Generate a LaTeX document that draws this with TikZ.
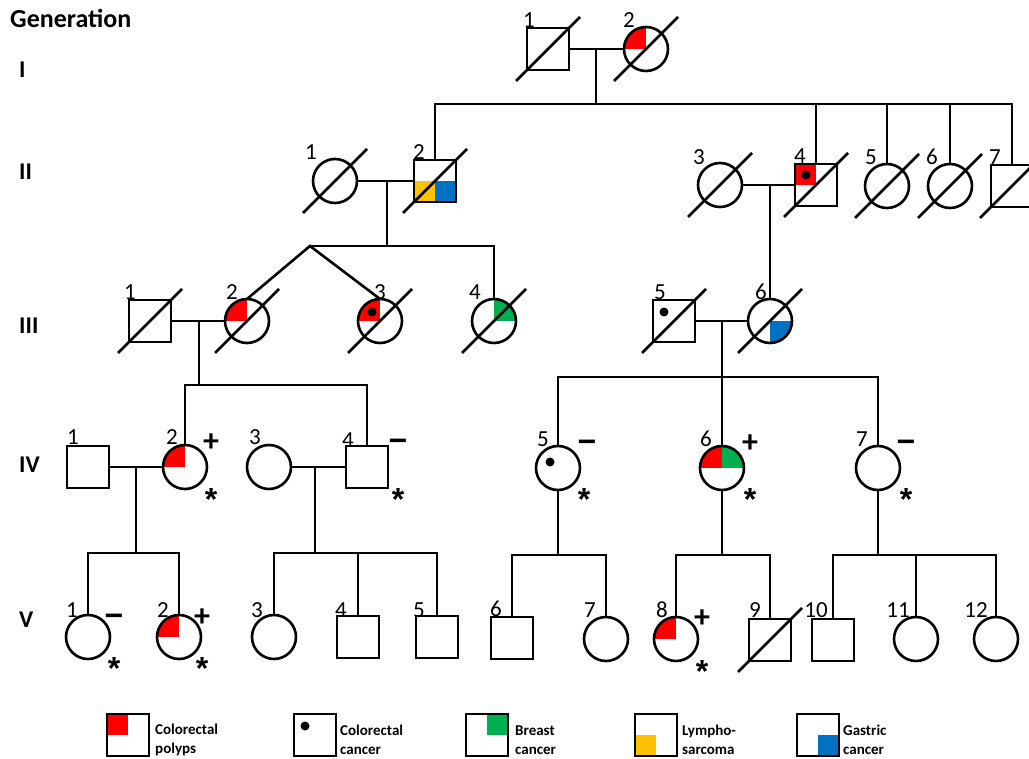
\documentclass[tikz,border=0pt]{standalone}
\usepackage{fontspec}
\setmainfont{Carlito}
\newfontfamily\astfont{Liberation Sans}
\usetikzlibrary{backgrounds}
\definecolor{cpol}{RGB}{255,0,0}
\definecolor{cbr}{RGB}{0,176,80}
\definecolor{cly}{RGB}{255,192,0}
\definecolor{cga}{RGB}{0,112,192}
\tikzset{
  male/.style={draw, rectangle, minimum size=42pt, inner sep=0pt, outer sep=0pt, line width=2.6pt},
  female/.style={draw, circle, minimum size=44pt, inner sep=0pt, outer sep=0pt, line width=2.6pt},
  conn/.style={line width=2.6pt},
  num/.style={font=\fontsize{23}{23}\selectfont, inner sep=0pt},
  sign/.style={font=\bfseries\fontsize{32}{32}\selectfont, inner sep=0pt, anchor=base},
  ast/.style={font=\astfont\bfseries\fontsize{32}{32}\selectfont, inner sep=0pt, anchor=base},
  gen/.style={font=\bfseries\fontsize{24}{24}\selectfont, inner sep=0pt, anchor=west},
  legbox/.style={draw, rectangle, minimum size=42pt, inner sep=0pt, outer sep=0pt, line width=2.2pt},
  legtxt/.style={font=\bfseries\fontsize{15}{19}\selectfont, align=left, anchor=west, inner sep=0pt},
}
\newcommand\deceased[1]{\draw[conn] ([shift={(-32pt,-32pt)}]#1.center) -- ([shift={(32pt,32pt)}]#1.center);}
\newcommand\cfill[3]{\begin{pgfonlayer}{background}\begin{scope}\clip (#1.center) circle[radius=22pt]; \fill[#2] (#1.center) rectangle ++#3;\end{scope}\end{pgfonlayer}}
\newcommand\sfill[3]{\begin{pgfonlayer}{background}\begin{scope}\fill[#2] (#1.center) rectangle ++#3;\end{scope}\end{pgfonlayer}}
\newcommand\dotmark[2]{\fill ([shift={#2}]#1.center) circle[radius=4.5pt];}
\newcommand\pnum[4]{\node[num] (#1-n) at ([shift={(#3pt,#4pt)}]#1.center) {#2};}
\begin{document}
\begin{tikzpicture}[x=1pt,y=1pt]
\useasboundingbox (0,0) rectangle (1029,-759);
% generation labels
\node[font=\bfseries\fontsize{26}{26}\selectfont, inner sep=0pt, anchor=west] (genlab) at (10,-18) {Generation};
\node[gen] (gI) at (19,-70) {I};
\node[gen] (gII) at (19,-172) {II};
\node[gen] (gIII) at (19,-326) {III};
\node[gen] (gIV) at (19,-465) {IV};
\node[gen] (gV) at (19,-620) {V};
% Gen I
\node[male] (I1) at (548,-49) {};
\node[female] (I2) at (646,-49) {};
% Gen II
\node[female] (II1) at (335,-181) {};
\node[male] (II2) at (435,-181) {};
\node[female] (II3) at (720,-185) {};
\node[male] (II4) at (816,-185) {};
\node[female] (II5) at (887,-186) {};
\node[female] (II6) at (950,-186) {};
\node[male] (II7) at (1012,-186) {};
% Gen III
\node[male] (III1) at (150,-321) {};
\node[female] (III2) at (247,-321) {};
\node[female] (III3) at (380,-321) {};
\node[female] (III4) at (494,-321) {};
\node[male] (III5) at (674,-321) {};
\node[female] (III6) at (770,-321) {};
% Gen IV
\node[male] (IV1) at (88,-467) {};
\node[female] (IV2) at (185,-467) {};
\node[female] (IV3) at (269,-467) {};
\node[male] (IV4) at (367,-467) {};
\node[female] (IV5) at (558,-468) {};
\node[female] (IV6) at (722,-468) {};
\node[female] (IV7) at (878,-468) {};
% Gen V
\node[female] (V1) at (88,-637) {};
\node[female] (V2) at (179,-637) {};
\node[female] (V3) at (274,-637) {};
\node[male] (V4) at (358,-637) {};
\node[male] (V5) at (437,-637) {};
\node[male] (V6) at (512,-638) {};
\node[female] (V7) at (606,-639) {};
\node[female] (V8) at (676,-639) {};
\node[male] (V9) at (770,-640) {};
\node[male] (V10) at (833,-640) {};
\node[female] (V11) at (916,-639) {};
\node[female] (V12) at (996,-639) {};
% fills
\cfill{I2}{cpol}{(-23pt,23pt)}
\sfill{II2}{cly}{(-21pt,-21pt)}
\sfill{II2}{cga}{(21pt,-21pt)}
\sfill{II4}{cpol}{(-21pt,21pt)}
\cfill{III2}{cpol}{(-23pt,23pt)}
\cfill{III3}{cpol}{(-23pt,23pt)}
\cfill{III4}{cbr}{(23pt,23pt)}
\cfill{III6}{cga}{(23pt,-23pt)}
\cfill{IV2}{cpol}{(-23pt,23pt)}
\cfill{IV6}{cpol}{(-23pt,23pt)}
\cfill{IV6}{cbr}{(23pt,23pt)}
\cfill{V2}{cpol}{(-23pt,23pt)}
\cfill{V8}{cpol}{(-23pt,23pt)}
% dots
\dotmark{II4}{(-10pt,10pt)}
\dotmark{III3}{(-8pt,9pt)}
\dotmark{III5}{(-10pt,9pt)}
\dotmark{IV5}{(-8pt,6pt)}
% deceased
\foreach \n in {I1,I2,II1,II2,II3,II4,II5,II6,II7,III1,III2,III3,III4,III5,III6,V9} {\deceased{\n}}
% connectors I
\coordinate (mI) at (596,-49);
\coordinate (sI) at (596,-104);
\draw[conn] (I1) -- (I2);
\draw[conn] (mI) -- (sI);
\draw[conn] (II2.north) -- (II2.north |- sI) -- (II7.north |- sI) -- (II7.north);
\foreach \n in {II4,II5,II6} {\draw[conn] (\n.north) -- (\n.north |- sI);}
% II left
\draw[conn] (II1) -- (II2);
\coordinate (mII1) at (387,-181);
\coordinate (sII1) at (387,-246);
\coordinate (tw) at (310,-246);
\draw[conn] (mII1) -- (sII1);
\draw[conn] (III2.north) -- (tw) -- (III3.north);
\draw[conn] (tw) -- (III4.north |- tw) -- (III4.north);
% II right
\draw[conn] (II3) -- (II4);
\coordinate (mII2) at (770,-185);
\draw[conn] (mII2) -- (III6.north);
% III left
\draw[conn] (III1) -- (III2);
\coordinate (mIII1) at (199,-321);
\coordinate (sIII1) at (199,-385);
\draw[conn] (mIII1) -- (sIII1);
\draw[conn] (IV2.north) -- (IV2.north |- sIII1) -- (IV4.north |- sIII1) -- (IV4.north);
% III right
\draw[conn] (III5) -- (III6);
\coordinate (mIII2) at (722,-321);
\coordinate (sIII2) at (722,-377);
\draw[conn] (mIII2) -- (sIII2);
\draw[conn] (IV5.north) -- (IV5.north |- sIII2) -- (IV7.north |- sIII2) -- (IV7.north);
\draw[conn] (IV6.north |- sIII2) -- (IV6.north);
% IV
\draw[conn] (IV1) -- (IV2);
\coordinate (mIV1) at (136,-467);
\coordinate (sIV1) at (136,-553);
\draw[conn] (mIV1) -- (sIV1);
\draw[conn] (V1.north) -- (V1.north |- sIV1) -- (V2.north |- sIV1) -- (V2.north);
\draw[conn] (IV3) -- (IV4);
\coordinate (mIV2) at (315,-467);
\coordinate (sIV2) at (315,-553);
\draw[conn] (mIV2) -- (sIV2);
\draw[conn] (V3.north) -- (V3.north |- sIV2) -- (V5.north |- sIV2) -- (V5.north);
\draw[conn] (V4.north) -- (V4.north |- sIV2);
\coordinate (sIV3) at (558,-555);
\draw[conn] (IV5.south) -- (sIV3);
\draw[conn] (V6.north) -- (V6.north |- sIV3) -- (V7.north |- sIV3) -- (V7.north);
\coordinate (sIV4) at (722,-555);
\draw[conn] (IV6.south) -- (sIV4);
\draw[conn] (V8.north) -- (V8.north |- sIV4) -- (V9.north |- sIV4) -- (V9.north);
\coordinate (sIV5) at (878,-555);
\draw[conn] (IV7.south) -- (sIV5);
\draw[conn] (V10.north) -- (V10.north |- sIV5) -- (V12.north |- sIV5) -- (V12.north);
\draw[conn] (V11.north) -- (V11.north |- sIV5);
% numbers
\pnum{I1}{1}{-19}{29} \pnum{I2}{2}{-17}{29}
\pnum{II1}{1}{-24}{29} \pnum{II2}{2}{-16}{29} \pnum{II3}{3}{-21}{28} \pnum{II4}{4}{-16}{29}
\pnum{II5}{5}{-16}{29} \pnum{II6}{6}{-18}{29} \pnum{II7}{7}{-17}{29}
\pnum{III1}{1}{-20}{29} \pnum{III2}{2}{-15}{29} \pnum{III3}{3}{0}{29} \pnum{III4}{4}{-19}{29}
\pnum{III5}{5}{-14}{29} \pnum{III6}{6}{-9}{29}
\pnum{IV1}{1}{-15}{30} \pnum{IV2}{2}{-13}{30} \pnum{IV3}{3}{-14}{30} \pnum{IV4}{4}{-19}{27}
\pnum{IV5}{5}{-15}{29} \pnum{IV6}{6}{-16}{29} \pnum{IV7}{7}{-16}{29}
\pnum{V1}{1}{-16}{27} \pnum{V2}{2}{-16}{27} \pnum{V3}{3}{-17}{27} \pnum{V4}{4}{-17}{27}
\pnum{V5}{5}{-18}{27} \pnum{V6}{6}{-16}{29} \pnum{V7}{7}{-16}{29} \pnum{V8}{8}{-14}{29}
\pnum{V9}{9}{-15}{30} \pnum{V10}{10}{-17}{30} \pnum{V11}{11}{-18}{29} \pnum{V12}{12}{-20}{29}
% status signs
\node[sign] (IV2-p) at (211,-452) {+};
\node[ast] (IV2-a) at (211,-510) {*};
\node[ast] (IV4-m) at (398,-452) {−};
\node[ast] (IV4-a) at (398,-510) {*};
\node[ast] (IV5-m) at (587,-453) {−};
\node[ast] (IV5-a) at (584,-510) {*};
\node[sign] (IV6-p) at (750,-453) {+};
\node[ast] (IV6-a) at (750,-511) {*};
\node[ast] (IV7-m) at (906,-453) {−};
\node[ast] (IV7-a) at (906,-510) {*};
\node[ast] (V1-m) at (114,-626) {−};
\node[ast] (V1-a) at (114,-679) {*};
\node[sign] (V2-p) at (202,-626) {+};
\node[ast] (V2-a) at (202,-679) {*};
\node[sign] (V8-p) at (702,-627) {+};
\node[ast] (V8-a) at (702,-682) {*};
% legend
\node[legbox] (L1) at (128,-735) {};
\node[legbox] (L2) at (315,-735) {};
\node[legbox] (L3) at (487,-735) {};
\node[legbox] (L4) at (656,-735) {};
\node[legbox] (L5) at (818,-735) {};
\sfill{L1}{cpol}{(-21pt,21pt)}
\sfill{L3}{cbr}{(21pt,21pt)}
\sfill{L4}{cly}{(-21pt,-21pt)}
\sfill{L5}{cga}{(21pt,-21pt)}
\dotmark{L2}{(-10pt,9pt)}
\node[legtxt] (T1) at (155,-740) {Colorectal\\polyps};
\node[legtxt] (T2) at (340,-740) {Colorectal\\cancer};
\node[legtxt] (T3) at (515,-740) {Breast\\cancer};
\node[legtxt] (T4) at (682,-740) {Lympho-\\sarcoma};
\node[legtxt] (T5) at (843,-740) {Gastric\\cancer};
\end{tikzpicture}
\end{document}
